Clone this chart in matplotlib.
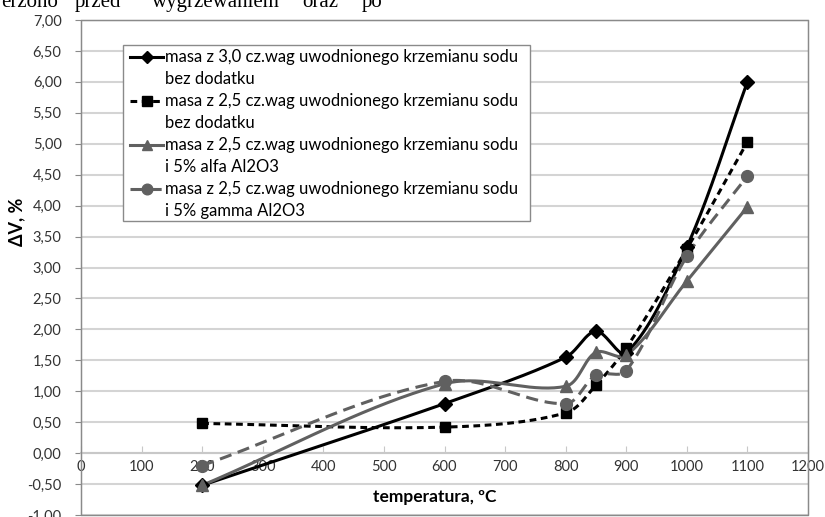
import numpy as np
import matplotlib
matplotlib.use('Agg')
import matplotlib.pyplot as plt
from matplotlib.lines import Line2D
from matplotlib.patches import Rectangle

# data
temps = [200, 600, 800, 850, 900, 1000, 1100]
masa_30 = [-0.52, 0.80, 1.55, 1.97, 1.62, 3.33, 6.00]
masa_25 = [0.48, 0.42, 0.65, 1.10, 1.70, 3.30, 5.03]
masa_25_alfa = [-0.52, 1.12, 1.08, 1.63, 1.58, 2.78, 3.98]
masa_25_gamma = [-0.20, 1.16, 0.80, 1.26, 1.33, 3.18, 4.48]

labels = [
    "masa z 3,0 cz.wag uwodnionego krzemianu sodu\nbez dodatku",
    "masa z 2,5 cz.wag uwodnionego krzemianu sodu\nbez dodatku",
    "masa z 2,5 cz.wag uwodnionego krzemianu sodu\ni 5% alfa Al2O3",
    "masa z 2,5 cz.wag uwodnionego krzemianu sodu\ni 5% gamma Al2O3",
]
xticks = list(range(0, 1201, 100))
yticks = [-1.0, -0.5, 0.0, 0.5, 1.0, 1.5, 2.0, 2.5, 3.0, 3.5, 4.0, 4.5, 5.0, 5.5, 6.0, 6.5, 7.0]
top_words = ["erzono", "przed", "wygrzewaniem", "oraz", "po"]

FONT = ['Lato', 'DejaVu Sans']
plt.rcParams['font.family'] = FONT

W, H = 825, 517
fig = plt.figure(figsize=(W / 100, H / 100), dpi=100)
L, R, T, B = 81, 808, 20, 515
ax = fig.add_axes([L / W, 1 - B / H, (R - L) / W, (B - T) / H])
ax.set_xlim(0, 1200)
ax.set_ylim(-1, 7)


def fx(px):
    return px / W


def fy(py):
    return 1 - py / H


# Excel-like smoothed line (bezier through points, done in pixel space)
def smooth(xs, ys, n=40):
    sx = (R - L) / 1200.0
    sy = (B - T) / 8.0
    p = np.column_stack([np.asarray(xs, float) * sx, np.asarray(ys, float) * sy])
    p = np.vstack([p[:1], p, p[-1:]])
    parts = []
    t = np.linspace(0, 1, n)[:, None]
    for i in range(1, len(p) - 2):
        p0, p1, p2, p3 = p[i - 1], p[i], p[i + 1], p[i + 2]
        d01 = np.linalg.norm(p1 - p0)
        d12 = np.linalg.norm(p2 - p1)
        d23 = np.linalg.norm(p3 - p2)
        c1 = p1 + (p2 - p0) * d12 / (d01 + d12) / 3
        c2 = p2 - (p3 - p1) * d12 / (d12 + d23) / 3
        b = (1 - t) ** 3 * p1 + 3 * (1 - t) ** 2 * t * c1 + 3 * (1 - t) * t ** 2 * c2 + t ** 3 * p2
        parts.append(b if i == 1 else b[1:])
    b = np.vstack(parts)
    return b[:, 0] / sx, b[:, 1] / sy


gray = '#606060'
styles = [
    dict(color='black', ls='-', marker='D', ms=6.8, dashes=None),
    dict(color='black', ls='--', marker='s', ms=7.5, dashes=(2.2, 1.5)),
    dict(color=gray, ls='-', marker='^', ms=8.5, dashes=None),
    dict(color=gray, ls='--', marker='o', ms=8.5, dashes=(4, 2.2)),
]
series = [masa_30, masa_25, masa_25_alfa, masa_25_gamma]
LW = 2.2

for ys, st in zip(series, styles):
    sx_, sy_ = smooth(temps, ys)
    ln, = ax.plot(sx_, sy_, color=st['color'], lw=LW, ls=st['ls'], zorder=3, clip_on=False)
    if st['dashes']:
        ln.set_dashes(st['dashes'])
    ax.plot(temps, ys, ls='none', marker=st['marker'], ms=st['ms'], color=st['color'],
            zorder=4, clip_on=False)

# grid and axes
ax.set_yticks(yticks)
ax.set_yticklabels([f"{v:.2f}".replace('.', ',') for v in yticks])
ax.set_xticks(xticks)
ax.set_xticklabels([str(v) for v in xticks])
ax.yaxis.grid(True, color='#d4d4d4', lw=1.5)
ax.set_axisbelow(True)
for s in ['top', 'right', 'left']:
    ax.spines[s].set_color('#8a8a8a')
ax.spines['bottom'].set_position(('data', 0))
ax.spines['bottom'].set_color('#c8c8c8')
ax.spines['bottom'].set_linewidth(1.5)
ax.add_patch(Rectangle((0, 0), 1, 1, transform=ax.transAxes, fill=False,
                       ec='#8a8a8a', lw=1.0, clip_on=False, zorder=5))
ax.tick_params(axis='y', direction='out', length=4, color='#8a8a8a', pad=10,
               labelsize=10.5, labelcolor='#333333')
ax.tick_params(axis='x', direction='in', length=5, color='#c8c8c8', pad=5,
               labelsize=10.5, labelcolor='#333333')

fig.text(fx(17), fy(222), "ΔV, %", rotation=90, ha='center', va='center',
         fontsize=13, fontweight='bold', family=FONT)
fig.text(fx(435), fy(497), "temperatura, ºC", ha='center', va='center',
         fontsize=12.5, fontweight='bold', family=FONT)

# legend drawn by hand: handle sits next to the first text line
fig.patches.append(Rectangle((fx(123), fy(221)), fx(530) - fx(123), fy(45) - fy(221),
                             transform=fig.transFigure, fc='white', ec='#8a8a8a',
                             lw=1.0, zorder=6))
row_y = [57, 101, 145, 189]
for lab, st, py in zip(labels, styles, row_y):
    hl = Line2D([fx(130), fx(163)], [fy(py), fy(py)], transform=fig.transFigure,
                color=st['color'], lw=LW, ls=st['ls'], zorder=7)
    if st['dashes']:
        hl.set_dashes(st['dashes'])
    fig.lines.append(hl)
    fig.lines.append(Line2D([fx(146.5)], [fy(py)], transform=fig.transFigure, ls='none',
                            marker=st['marker'], ms=st['ms'] * 0.9, color=st['color'],
                            zorder=8))
    l1, l2 = lab.split('\n')
    fig.text(fx(165), fy(py), l1, ha='left', va='center', fontsize=12, zorder=8)
    fig.text(fx(165), fy(py + 22), l2, ha='left', va='center', fontsize=12, zorder=8)

# clipped line of document text above the chart
word_x = [1, 75, 152, 302, 362]
for w, px in zip(top_words, word_x):
    fig.text(fx(px), fy(7), w, ha='left', va='baseline', fontsize=15,
             family='Liberation Serif', color='black')

fig.savefig('out.png', dpi=100)
